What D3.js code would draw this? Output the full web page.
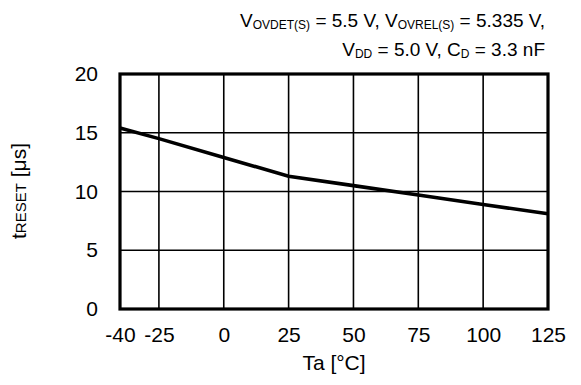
<!DOCTYPE html>
<html>
<head>
<meta charset="utf-8">
<script src="https://cdn.jsdelivr.net/npm/d3@7"></script>
<style>
  html, body { margin: 0; padding: 0; background: #fff; }
  svg { display: block; font-family: "Liberation Sans", Arial, Helvetica, sans-serif; }
</style>
</head>
<body>
<svg id="chart" width="581" height="385"></svg>
<script>
// Reset time versus ambient temperature
const temperatures = [-40, -25, 0, 25, 50, 75, 100, 125];
const resetTimes = [15.4, 14.5, 12.9, 11.3, 10.5, 9.7, 8.9, 8.1];
const xTicks = [-40, -25, 0, 25, 50, 75, 100, 125];
const yTicks = [0, 5, 10, 15, 20];

const svg = d3.select("#chart");
const plot = { left: 120, right: 548, top: 74, bottom: 309 };

const x = d3.scaleLinear().domain([-40, 125]).range([plot.left, plot.right]);
const y = d3.scaleLinear().domain([0, 20]).range([plot.bottom, plot.top]);

// Grid
const grid = svg.append("g").attr("stroke", "#000").attr("stroke-width", 1.6);
grid.selectAll("line.vx").data(xTicks.slice(1, -1)).join("line")
  .attr("x1", d => x(d)).attr("x2", d => x(d))
  .attr("y1", plot.top).attr("y2", plot.bottom);
grid.selectAll("line.hy").data(yTicks.slice(1, -1)).join("line")
  .attr("x1", plot.left).attr("x2", plot.right)
  .attr("y1", d => y(d)).attr("y2", d => y(d));

// Data line
svg.append("path")
  .datum(temperatures.map((t, i) => [t, resetTimes[i]]))
  .attr("fill", "none").attr("stroke", "#000").attr("stroke-width", 3.6)
  .attr("d", d3.line().x(d => x(d[0])).y(d => y(d[1])));

// Frame
svg.append("rect")
  .attr("x", plot.left).attr("y", plot.top)
  .attr("width", plot.right - plot.left).attr("height", plot.bottom - plot.top)
  .attr("fill", "none").attr("stroke", "#000").attr("stroke-width", 3.2);

// Axes (labels only, plain hyphen for negatives)
const xAxis = svg.append("g")
  .attr("transform", `translate(0,${plot.bottom})`)
  .call(d3.axisBottom(x).tickValues(xTicks).tickSize(0).tickPadding(18).tickFormat(d => String(d)));
xAxis.select(".domain").remove();
xAxis.selectAll("text").attr("font-size", 21).attr("fill", "#000").attr("font-family", null);

const yAxis = svg.append("g")
  .attr("transform", `translate(${plot.left},0)`)
  .call(d3.axisLeft(y).tickValues(yTicks).tickSize(0).tickPadding(22).tickFormat(d => String(d)));
yAxis.select(".domain").remove();
yAxis.selectAll("text").attr("font-size", 21).attr("fill", "#000").attr("font-family", null);

// Axis titles
svg.append("text")
  .attr("x", (plot.left + plot.right) / 2).attr("y", 370)
  .attr("text-anchor", "middle").attr("font-size", 21).attr("fill", "#000")
  .text("Ta [°C]");

const yt = svg.append("text")
  .attr("transform", "translate(26,191) rotate(-90)")
  .attr("text-anchor", "middle").attr("font-size", 21).attr("fill", "#000");
yt.append("tspan").text("t");
yt.append("tspan").attr("font-size", 15).text("RESET");
yt.append("tspan").text(" [μs]");

// Conditions
function condition(yPos, parts) {
  const t = svg.append("text")
    .attr("x", 545).attr("y", yPos)
    .attr("text-anchor", "end").attr("font-size", 19).attr("fill", "#000");
  parts.forEach(p => {
    if (p.sub) {
      t.append("tspan").attr("font-size", 12).attr("dy", 2).text(p.sub);
    } else {
      t.append("tspan").attr("dy", p.after ? -2 : 0).text(p.text);
    }
  });
}
condition(27, [
  { text: "V" }, { sub: "OVDET(S)" }, { text: " = 5.5 V, V", after: true },
  { sub: "OVREL(S)" }, { text: " = 5.335 V,", after: true }
]);
condition(56, [
  { text: "V" }, { sub: "DD" }, { text: " = 5.0 V, C", after: true },
  { sub: "D" }, { text: " = 3.3 nF", after: true }
]);
</script>
</body>
</html>
